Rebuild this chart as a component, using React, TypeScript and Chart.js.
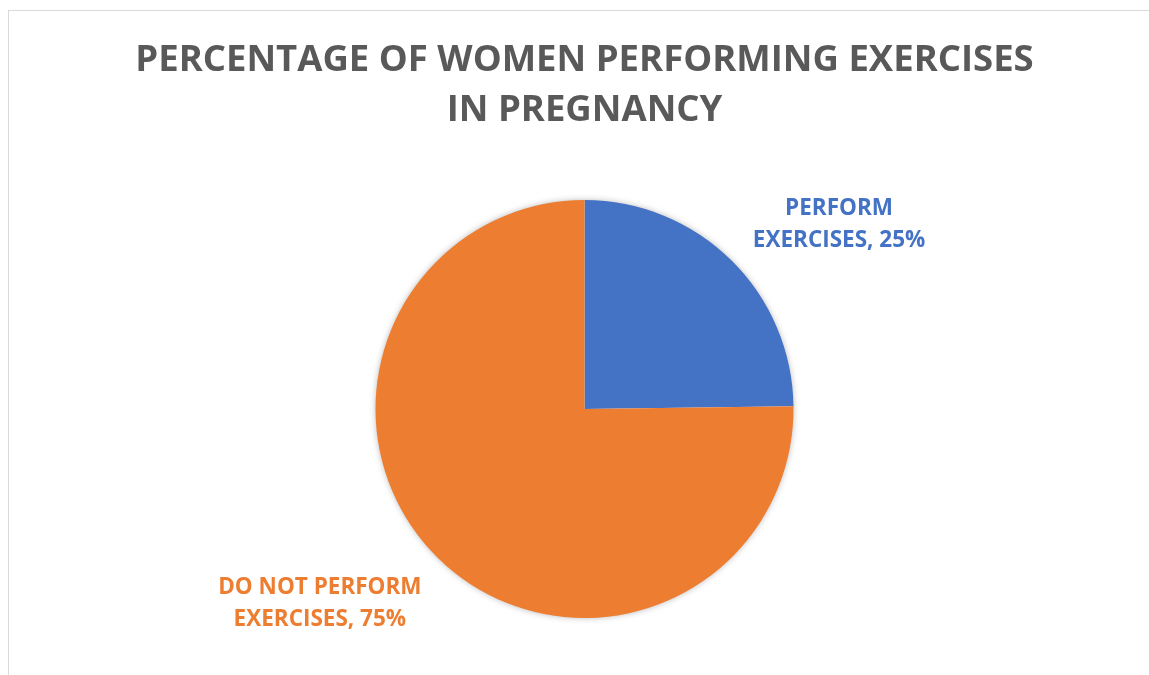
import React, { useEffect, useRef } from "react";
import { Chart, registerables } from "chart.js";

Chart.register(...registerables);

const TITLE_LINES = ["PERCENTAGE OF WOMEN PERFORMING EXERCISES", "IN PREGNANCY"];
const CATEGORIES = ["PERFORM EXERCISES", "DO NOT PERFORM EXERCISES"];
const LABEL_FIRST_LINES = ["PERFORM", "DO NOT PERFORM"];
const LABEL_SECOND_LINES = ["EXERCISES", "EXERCISES"];
const VALUES = [24.8, 75.2];
const COLORS = ["#4472C4", "#ED7D31"];

const FONT_FAMILY = "'Open Sans', Lato, 'Noto Sans', sans-serif";
const TITLE_COLOR = "#595959";
const TITLE_SIZE = 36.5;
const LABEL_SIZE = 22.5;
const LABEL_ANGLE_SHIFT = (9.2 * Math.PI) / 180;
const LABEL_GAP = 22.5;
const LABEL_BLOCK_H = 48;

const decorPlugin = {
  id: "decor",
  beforeDatasetsDraw(chart: any) {
    const ctx = chart.ctx;
    const arc = chart.getDatasetMeta(0).data[0];
    if (!arc) return;
    const { x, y, outerRadius } = arc.getProps(["x", "y", "outerRadius"], true);
    // soft shadow under the pie
    ctx.save();
    ctx.shadowColor = "rgba(0,0,0,0.35)";
    ctx.shadowBlur = 7;
    ctx.fillStyle = "#ffffff";
    ctx.beginPath();
    ctx.arc(x, y, outerRadius - 1, 0, Math.PI * 2);
    ctx.fill();
    ctx.restore();
    // title
    ctx.save();
    ctx.fillStyle = TITLE_COLOR;
    ctx.font = `bold ${TITLE_SIZE}px ${FONT_FAMILY}`;
    ctx.textAlign = "center";
    ctx.textBaseline = "alphabetic";
    TITLE_LINES.forEach((line, i) => {
      ctx.fillText(line, x, 71 + i * 50);
    });
    ctx.restore();
  },
  afterDatasetsDraw(chart: any) {
    const ctx = chart.ctx;
    const meta = chart.getDatasetMeta(0);
    const data = chart.data.datasets[0].data as number[];
    ctx.save();
    ctx.font = `bold ${LABEL_SIZE}px ${FONT_FAMILY}`;
    ctx.textAlign = "center";
    ctx.textBaseline = "alphabetic";
    meta.data.forEach((el: any, i: number) => {
      const { x, y, startAngle, endAngle, outerRadius } = el.getProps(
        ["x", "y", "startAngle", "endAngle", "outerRadius"],
        true
      );
      const lines = [
        LABEL_FIRST_LINES[i],
        `${LABEL_SECOND_LINES[i]}, ${Math.round(data[i])}%`,
      ];
      const w = Math.max(...lines.map((l) => ctx.measureText(l).width));
      const mid = (startAngle + endAngle) / 2 + LABEL_ANGLE_SHIFT;
      const c = Math.cos(mid);
      const s = Math.sin(mid);
      const proj = Math.abs(c) * (w / 2) + Math.abs(s) * (LABEL_BLOCK_H / 2);
      const d = outerRadius + LABEL_GAP + proj;
      const lx = x + c * d;
      const ly = y + s * d;
      ctx.fillStyle = COLORS[i];
      ctx.fillText(lines[0], lx, ly - 8);
      ctx.fillText(lines[1], lx, ly + 24);
    });
    ctx.restore();
  },
};

export default function App() {
  const canvasRef = useRef<HTMLCanvasElement | null>(null);

  useEffect(() => {
    const canvas = canvasRef.current;
    if (!canvas) return;
    const chart = new Chart(canvas, {
      type: "pie",
      data: {
        labels: CATEGORIES,
        datasets: [
          {
            data: VALUES,
            backgroundColor: COLORS,
            borderWidth: 0,
          },
        ],
      },
      options: {
        responsive: false,
        animation: false,
        layout: { padding: { top: 200, bottom: 57, left: 20, right: 0 } },
        plugins: {
          legend: { display: false },
          title: { display: false },
          tooltip: { enabled: false },
        },
      },
      plugins: [decorPlugin],
    });
    return () => chart.destroy();
  }, []);

  return (
    <div
      style={{
        position: "absolute",
        left: 0,
        top: 0,
        width: 1149,
        height: 675,
        overflow: "hidden",
        background: "#ffffff",
      }}
    >
      <div
        style={{
          position: "absolute",
          left: 8,
          top: 10,
          width: 1200,
          height: 700,
          borderTop: "1px solid #d9d9d9",
          borderLeft: "1px solid #d9d9d9",
        }}
      />
      <canvas
        ref={canvasRef}
        width={1149}
        height={675}
        style={{ position: "absolute", left: 0, top: 0 }}
      />
    </div>
  );
}
